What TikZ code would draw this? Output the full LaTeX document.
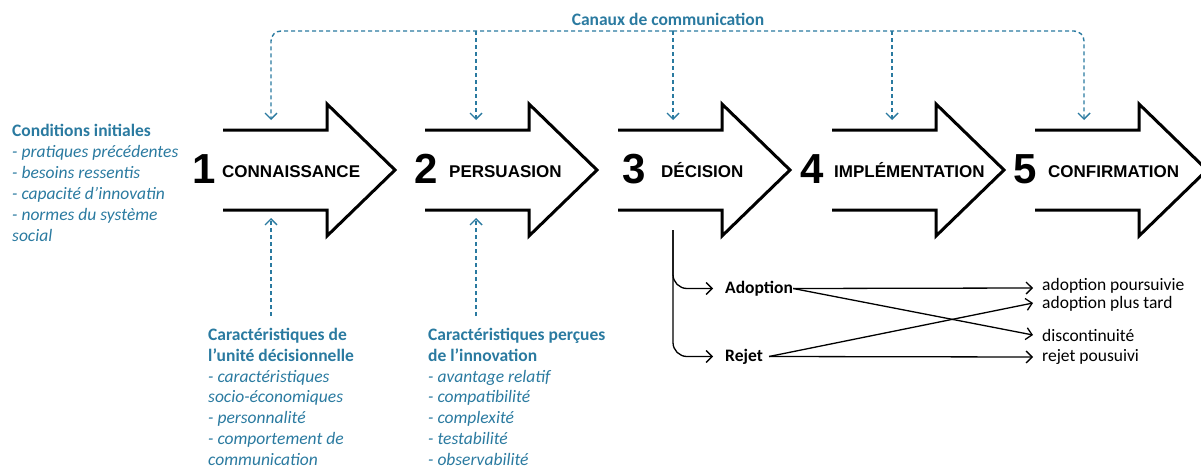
\documentclass[tikz,border=0pt]{standalone}
\usepackage{fontspec}
\setmainfont{Carlito}
\newfontfamily\capsfont{Liberation Sans}
\usetikzlibrary{arrows.meta}
\definecolor{cblue}{RGB}{42,122,160}
\begin{document}
\begin{tikzpicture}[x=1pt,y=-1pt,
  bigarrow/.style={line width=3pt, line join=miter, miter limit=10},
  num/.style={font=\capsfont\bfseries\fontsize{42}{42}\selectfont, inner sep=0pt, anchor=base},
  stage/.style={font=\capsfont\bfseries\fontsize{17}{17}\selectfont, inner sep=0pt, anchor=base west},
  comm/.style={cblue, line width=1.4pt, dash pattern=on 4pt off 3pt,
    -{Straight Barb[length=6pt,width=12pt,line width=1.4pt]}},
  title/.style={cblue, font=\bfseries\fontsize{17.5}{17.5}\selectfont, inner sep=0pt},
  bluetext/.style={cblue, align=left, inner sep=0pt, anchor=north west,
    font=\fontsize{17.5}{20.8}\selectfont},
  thinarrow/.style={line width=1.3pt, -{Straight Barb[length=6pt,width=12pt,line width=1.3pt]}},
  opt/.style={font=\bfseries\fontsize{17.5}{17.5}\selectfont, inner sep=0pt, anchor=west},
  outc/.style={font=\fontsize{17.5}{17.5}\selectfont, inner sep=0pt, anchor=west}
]
\useasboundingbox (0,0) rectangle (1201,471);
\clip (0,0) rectangle (1201,471);

% big stage arrows
\foreach \T in {223,425,618,832,1035}{
  \draw[bigarrow] (\T,130) -- (\T+104,130) -- (\T+104,104) -- (\T+172,170)
     -- (\T+104,236) -- (\T+104,210) -- (\T,210);
}

% numbers and stage names
\node[num] (n1) at (204,183) {1};
\node[stage] (s1) at (222,177) {CONNAISSANCE};
\node[num] (n2) at (426,183) {2};
\node[stage] (s2) at (449,177) {PERSUASION};
\node[num] (n3) at (634,183) {3};
\node[stage] (s3) at (661,177) {DÉCISION};
\node[num] (n4) at (812,183) {4};
\node[stage] (s4) at (834,177) {IMPLÉMENTATION};
\node[num] (n5) at (1025,183) {5};
\node[stage] (s5) at (1048,177) {CONFIRMATION};

% communication channels
\node[title] (canaux) at (668,19) {Canaux de communication};
\coordinate (top) at (673,31);
\coordinate (d1) at (271,120);
\coordinate (d2) at (476,120);
\coordinate (d3) at (673,120);
\coordinate (d4) at (892,120);
\coordinate (d5) at (1084,120);
\draw[comm, rounded corners=10pt] (top) -| (d1);
\draw[comm, rounded corners=10pt] (top) -| (d5);
\draw[comm] (top -| d2) -- (d2);
\draw[comm] (top) -- (d3);
\draw[comm] (top -| d4) -- (d4);

% initial conditions
\node[bluetext, font=\fontsize{17.5}{21}\selectfont] (cond) at (12,124)
  {\textbf{Conditions initiales}\\
   \textit{- pratiques précédentes}\\
   \textit{- besoins ressentis}\\
   \textit{- capacité d’innovatin}\\
   \textit{- normes du système}\\
   \textit{social}};

% bottom characteristic blocks
\node[bluetext] (unit) at (208,328)
  {\textbf{Caractéristiques de}\\
   \textbf{l’unité décisionnelle}\\
   \textit{- caractéristiques}\\
   \textit{socio-économiques}\\
   \textit{- personnalité}\\
   \textit{- comportement de}\\
   \textit{communication}};
\node[bluetext] (innov) at (428,328)
  {\textbf{Caractéristiques perçues}\\
   \textbf{de l’innovation}\\
   \textit{- avantage relatif}\\
   \textit{- compatibilité}\\
   \textit{- complexité}\\
   \textit{- testabilité}\\
   \textit{- observabilité}};
\coordinate (b1) at (271,316);
\coordinate (u1) at (271,218);
\coordinate (b2) at (476,316);
\coordinate (u2) at (476,218);
\draw[comm] (b1) -- (u1);
\draw[comm] (b2) -- (u2);

% decision branches
\coordinate (dec) at (673,230);
\node[opt] (ad) at (725,288.5) {Adoption};
\node[opt] (rj) at (725,356.5) {Rejet};
\draw[thinarrow, rounded corners=14pt] (dec) |- ([xshift=-12pt]ad.west);
\draw[thinarrow, rounded corners=14pt] (dec) |- ([xshift=-12pt]rj.west);

\node[outc] (t1) at (1042,285.5) {adoption poursuivie};
\node[outc] (t2) at (1042,304) {adoption plus tard};
\node[outc] (t3) at (1042,335) {discontinuité};
\node[outc] (t4) at (1042,357) {rejet pousuivi};

\draw[thinarrow] (ad.east) -- ([xshift=-9pt,yshift=-2.5pt]t1.west);
\draw[thinarrow] (ad.east) -- ([xshift=-9pt]t3.west);
\draw[thinarrow] ([xshift=6pt]rj.east) -- ([xshift=-9pt,yshift=1pt]t2.west);
\draw[thinarrow] ([xshift=6pt]rj.east) -- ([xshift=-9pt]t4.west);
\end{tikzpicture}
\end{document}
